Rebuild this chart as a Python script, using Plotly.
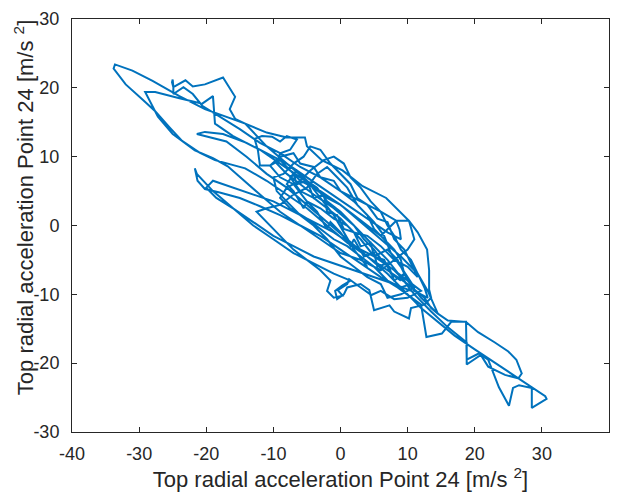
import plotly.graph_objects as go

# Trajectory (x: Top radial acceleration Point 24, y: Top radial acceleration Point 24), m/s^2
x_vals = [
    4, 2, 0.5, -1, -3, -5, -8, -11, -14.2, -17, -20.2, -24, -28, -31, -32.8, -33.6, -33.8, -32, -29.5, -27.6,
    -25.5, -23.6, -21, -18.7, -14.2, -11, -8, -5, -2, 1, 4, 7, 10, 12.5, 13.5, 14.5,
    16, 18.7, 20.5, 23, 25, 26.2, 27, 26.5, 24.5, 22, 20.9, 18.8, 18.8, 16, 13.5, 11, 9, 7, 4.5, 2, -1, -4, -6, -8, -9.5, -9, -7.5, -6.5,
    -8, -9, -10.2, -11.7, -12.8, -12.3, -12, -10.5, -9, -7.5, -6, -4, -2, 0, 2, 4, 6, 8.3, 10.2, 11.5, 12.9, 13.2, 13.2, 13.5, 12.5, 10.5,
    10.2, 8, 7.3, 5, 4.3, 3, 1, 0.5, -0.5, -0.8, 0.3, 1.5, -1, -4, -7, -10, -13, -16, -19, -21.4, -21.7, -21.3, -20.2, -18, -15, -12,
    -9, -6, -3, 0, 3, 6, 8.5, 10.5, 12, 12.8, 15.1, 16.5, 18.7, 18.8, 20.6, 22, 23.6, 25.1, 25.7, 26.6, 28.5, 28.5, 30.7, 30.5,
    28, 25.5, 23, 20, 17, 14.5, 12, 9.5, 7, 4, 1, -2, -5, -8, -11, -14, -17, -21.4, -20.2, -17.5, -14, -11, -8, -5, -2, 1, 4, 7, 9, 8.8, 8.3,
    6, 3, 0, -3, -6, -9, -12, -15, -18, -20.6, -22, -23.4, -24.9, -24.9, -25.1, -25, -24.9, -23.1, -22, -20.2, -17.5, -15.7, -16.5, -15.7,
    -14.2, -11, -8, -5.3, -5, -2.8, 0.3, 3.3, 6.8, 10.2, 11, 10, 8, 6, 3, 0, -3, -6, -9, -12, -15, -16.8, -19, -21.7, -25, -27.2, -29.1,
    -27.6, -24, -20.6, -19, -18.7, -16, -12, -9, -6, -3, 0, 3, 6, 9, 11.5, 13, 14.5,
    12, 10, 8.5, 7, 5, 3, 1, -1, -3, -5, -7, -9, -10.5, -9, -7, -6, -4, -3, -1, 0, 2, 3.5, 5, 6.5, 7.5, 9, 10, 11,
    9, 7, 6, 4, 2, 0, -2, -4, -6, -8, -9.5, -10, -8.5, -7, -5.5, -4.5, -3, -1.5, 0, 1.5, 2.5, 4, 5.5, 7, 8, 9.5, 10.5, 11.5,
    10, 8, 6, 4, 2, 0, -2, -4, -6, -7.5, -6.5, -5, -3.5, -2, 0, 2, 3.5, 5, 6.5, 8, 9.5, 10.5,
    8, 5, 2, -1, -4, -7, -10, -13, -16, -18.5, -20, -19, -16, -13, -10, -7, -4, -1, 2, 5, 8, 10, 12,
    10, 8, 6, 4.6, 3, 1.3, 1, -0.4, 0.3, -1, -2, -1.5, -3, -5, -7, -9, -11, -12.5, -11, -9, -7, -5, -3.5, -2, -0.5, 1, 2.5, 4, 5, 6.5, 8, 9, 9.5, 10.5,
    9, 7, 5, 3, 1, -1, -3, -5, -7.5, -9, -8, -6, -4.5, -2.5, -1, 0.5, 1.5, 3, 4.5, 6, 7, 8, 9, 10.5, 11.5, 12.5, 13,
    11, 9.5, 8, 7, 5.5, 5, 3.5, 2, 1.5, 0, -1.5, -2, -3.5, -5, -5.5, -7, -8, -7, -6.5, -5, -4, -2.5, -2, -0.5, 0.5, 2, 3, 4.5, 5, 6.5, 7.5, 9,
]
y_vals = [
    -6, -3.5, -1, 1.5, 4, 6.5, 9, 11.5, 14.8, 15.8, 16.9, 18.8, 21, 22.5, 23.2, 23.4, 22.8, 20.5, 18.3, 16.6,
    14.3, 12.3, 10.6, 9.5, 8.3, 6.5, 4.5, 2.5, 0, -2.5, -4.5, -6.5, -8.5, -10.5, -12, -12.8,
    -13.8, -14, -15.5, -17, -18.3, -19.5, -21.5, -22.2, -21.7, -20.5, -18.8, -20.2, -17, -14.8, -12.5, -10, -7.5, -5, -2.5, 0, 2.5, 4.5, 6, 7.5, 9, 10.5, 11, 12.5,
    13, 12.2, 12.9, 13, 12.6, 10.9, 8.7, 8.7, 9.5, 8, 6.5, 5.5, 4, 3, 1.5, 0, -1.5, 0.7, 0.7, -1, -3.5, -6.5, -9.3, -10.5, -11.5, -12,
    -13.5, -12.5, -11.6, -12.3, -9.4, -8.5, -9, -10, -10.7, -9.5, -8.7, -8, -7, -5.5, -4, -2, 0, 2.5, 5, 7.5, 8.3, 6.5, 5.3, 4.8, 4, 2.8,
    1.5, 0, -1.5, -3.5, -5.5, -7.5, -9, -10.5, -11.5, -16.2, -15.7, -14, -14, -19.5, -18.6, -19.5, -23.5, -26.2, -23.6, -23.2, -23.6, -26.5, -25.2, -24.8,
    -23.2, -21.5, -20, -18, -16, -14, -12, -9.5, -7, -4.5, -2, 0.5, 3, 5.5, 7.5, 10, 12.2, 13.3, 13.6, 13.3, 12, 10.5, 9, 7, 5, 3, 1, -1, -2, -0.6, 0.7,
    2, 3.5, 5, 7, 8.5, 10.5, 12, 14, 15.8, 17.4, 19.1, 20.1, 19.1, 20.1, 20.8, 21.2, 20.1, 21.1, 20.2, 20.5, 21.5, 18.7, 16.9, 15.5,
    14.8, 13.5, 12.8, 12.8, 11.5, 9.5, 8, 5.7, 4, 0.7, -2, -3.5, -5, -6.5, -5, -4, -2, 0, 2, 4.5, 7, 8.6, 9.8, 10.9, 13.3, 15.8, 19.4,
    19.4, 18.5, 17.7, 18.8, 14.8, 13, 11, 9, 7, 5, 3, 0.5, -2, -4.5, -7, -9.5, -12.8,
    -10.5, -8, -5, -3.5, -4.5, -2, 0, 1, 2.5, 3.5, 6, 7, 8.7, 10, 10.5, 9, 8.5, 7, 6.5, 5, 3.5, 2, 0.5, -1.5, -4, -6, -7.5, -9,
    -10, -10.5, -8.5, -7.5, -6, -4.5, -2, 0, 1.5, 3.5, 5, 7, 7.5, 9, 10, 11.5, 11, 9, 7.5, 6, 4, 3, 1, 0.5, -2, -3.5, -5.5, -7.5,
    -6, -5, -3, -1.5, -1, 1, 2.5, 4, 5, 7, 8, 6.5, 5.5, 3.5, 2, 0, -2, -3.5, -5.5, -6.5, -8, -9.5,
    -8.5, -7.5, -6.5, -5.5, -4.5, -3, -1.5, 0.5, 2.5, 4, 5.5, 6.5, 5.5, 4.5, 3.5, 2, 0.5, -1, -3, -4.5, -6.5, -8, -9.5,
    -10.5, -10.7, -9.5, -10.1, -9, -7.8, -8.5, -9.4, -10.2, -10.5, -9.5, -8, -6.5, -5, -3.5, -1.5, 0.5, 2, 2.5, 3, 4.5, 5.5, 7.5, 8.5, 7, 5.5, 3, 1.5, -0.5, -2, -3.5, -5, -7, -8.5,
    -9, -8, -6, -4.5, -3, -2, -0.5, 1, 2.5, 4, 5.5, 6.5, 8, 9.5, 10, 9, 7, 5.5, 3.5, 2, 0, -1.5, -3.5, -5, -7, -9, -10.5,
    -9.5, -7, -8, -5.5, -6, -4, -4.5, -2, -3, -1, 0.5, -0.5, 2, 3.5, 2.5, 5, 6, 7.5, 6, 6.5, 4, 4.5, 2, 1.5, -0.5, -1, -3, -2.5, -4.5, -5, -7, -8,
]

x_ticks = [-40, -30, -20, -10, 0, 10, 20, 30, 40]
y_ticks = [-30, -20, -10, 0, 10, 20, 30]
x_label = "Top radial acceleration Point 24 [m/s <sup>2</sup>]"
y_label = "Top radial acceleration Point 24 [m/s <sup>2</sup>]"

FONT = "Liberation Sans, Arial, Helvetica, sans-serif"
TXT = "#262626"
n = min(len(x_vals), len(y_vals))
fig = go.Figure()
fig.add_trace(go.Scatter(
    x=x_vals[:n], y=y_vals[:n], mode="lines",
    line=dict(color="#0072BD", width=2),
    hoverinfo="skip", showlegend=False,
))

axis_common = dict(
    showgrid=False, zeroline=False, showline=True, linecolor=TXT, linewidth=1,
    mirror="ticks", ticks="inside", ticklen=5, tickcolor=TXT, tickwidth=1,
    tickfont=dict(family=FONT, size=18, color=TXT),
)
fig.update_xaxes(range=[-40, 40], tickvals=x_ticks, ticktext=[str(v) for v in x_ticks],
                 ticklabelstandoff=5,
                 title=dict(text=x_label, font=dict(family=FONT, size=22, color=TXT), standoff=9),
                 **axis_common)
fig.update_yaxes(range=[-30, 30], tickvals=y_ticks, ticktext=[str(v) for v in y_ticks],
                 ticklabelstandoff=8,
                 **axis_common)

# y-axis title as rotated text, centred where the reference places it
plot_top, plot_bottom = 15, 432
title_center_px = 206
fig.add_annotation(
    text=y_label, textangle=-90, showarrow=False,
    xref="paper", yref="paper", x=0, y=(plot_bottom - title_center_px) / (plot_bottom - plot_top),
    xanchor="center", yanchor="middle", xshift=-(72 - 24),
    font=dict(family=FONT, size=22, color=TXT),
)
fig.update_layout(
    width=619, height=498, margin=dict(l=72, r=9, t=plot_top, b=498 - plot_bottom),
    paper_bgcolor="white", plot_bgcolor="white",
)
fig.write_html("out.html")
